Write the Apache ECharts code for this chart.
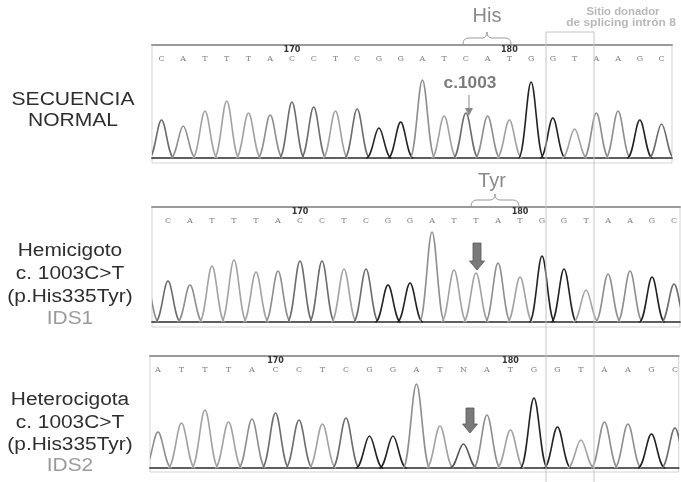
<!DOCTYPE html>
<html><head><meta charset="utf-8">
<script src="https://cdn.jsdelivr.net/npm/echarts@6/dist/echarts.min.js"></script>
<style>html,body{margin:0;padding:0;background:#fff}#c{width:681px;height:482px}</style>
</head><body><div id="c"></div>
<script>
// ---- Data ----
const normalSeq = ['C','A','T','T','T','A','C','C','T','C','G','G','A','T','C','A','T','G','G','T','A','A','G','C'];
const normalHeights = [38,32,47,57,45,43,56,51,47,49,30,36,78,42,45,42,38,76,40,29,45,47,38,34];
const normalNumbers = {6:'170', 16:'180'};

const hemiSeq = ['C','A','T','T','T','A','C','C','T','C','G','G','A','T','T','A','T','G','G','T','A','A','G','C'];
const hemiHeights = [41,37,56,62,50,51,61,61,53,53,37,39,90,52,49,59,45,66,53,32,48,51,45,38];
const hemiLeadPeak = 44;          // partial peak before the first base
const hemiNumbers = {6:'170', 16:'180'};

const heteroSeq = ['A','T','T','T','A','C','C','T','C','G','G','A','T','N','A','T','G','G','T','A','A','G','C'];
const heteroHeights = [36,45,58,46,49,55,48,44,50,32,32,84,42,24,53,38,70,41,28,46,44,34,40];
const heteroNumbers = {5:'170', 15:'180'};

const baseColors = {G:'#222222', C:'#6c6c6c', A:'#8e8e8e', T:'#a2a2a2', N:'#555555'};

// ---- Layout ----
const panels = [
  {seq:normalSeq, heights:normalHeights, lead:null, nums:normalNumbers,
   left:152, width:520, top:45, height:118, xMin:-0.437, xMax:23.48, yMin:-5, yMax:113},
  {seq:hemiSeq, heights:hemiHeights, lead:hemiLeadPeak, nums:hemiNumbers,
   left:152, width:528, top:207, height:120, xMin:-0.727, xMax:23.27, yMin:-5, yMax:115},
  {seq:heteroSeq, heights:heteroHeights, lead:null, nums:heteroNumbers,
   left:150, width:531, top:356, height:116, xMin:-0.34, xMax:22.16, yMin:-4, yMax:112}
];

const grids=[], xAxes=[], yAxes=[], series=[];
panels.forEach((p,k)=>{
  grids.push({left:p.left, top:p.top, width:p.width, height:p.height, show:true,
              borderColor:'#d4d4d4', borderWidth:1, backgroundColor:'#fff'});
  xAxes.push({type:'value', gridIndex:k, min:p.xMin, max:p.xMax, position:'bottom',
    axisLine:{show:true, onZero:true, lineStyle:{color:'#2a2a2a', width:1.7}},
    axisTick:{show:false}, axisLabel:{show:false}, splitLine:{show:false}});
  const idx = p.seq.map((_,i)=>i);
  xAxes.push({type:'value', gridIndex:k, min:p.xMin, max:p.xMax, position:'top',
    axisLine:{show:true, onZero:false, lineStyle:{color:'#9a9a9a', width:2}},
    axisTick:{show:false}, splitLine:{show:false},
    axisLabel:{show:true, inside:true, margin:1, customValues:idx,
      formatter:(v)=>{const i=Math.round(v); const n=p.nums[i]; return '{n|'+(n||' ')+'}\n{l|'+p.seq[i]+'}';},
      rich:{n:{fontSize:8, fontWeight:'bold', color:'#333', fontFamily:'DejaVu Sans', lineHeight:8, align:'center'},
            l:{fontSize:8, color:'#808080', fontFamily:'DejaVu Serif', lineHeight:9, align:'center'}}}});
  yAxes.push({type:'value', gridIndex:k, min:p.yMin, max:p.yMax, show:false, splitLine:{show:false}});

  const data = p.heights.map((h,i)=>({value:[i,h], itemStyle:{color:baseColors[p.seq[i]]}}));
  if (p.lead!==null) data.unshift({value:[-1,p.lead], itemStyle:{color:baseColors.A}});
  series.push({type:'custom', xAxisIndex:2*k, yAxisIndex:k, clip:true, silent:true,
    data:data,
    renderItem:(params, api)=>{
      const i=api.value(0), h=api.value(1);
      const a=api.coord([i-0.58,0]), c1=api.coord([i-0.3,0]), c2=api.coord([i-0.19,h]), t=api.coord([i,h]);
      const c3=api.coord([i+0.19,h]), c4=api.coord([i+0.3,0]), b=api.coord([i+0.58,0]);
      const d='M'+a[0]+','+a[1]+' C'+c1[0]+','+c1[1]+' '+c2[0]+','+c2[1]+' '+t[0]+','+t[1]+
              ' C'+c3[0]+','+c3[1]+' '+c4[0]+','+c4[1]+' '+b[0]+','+b[1];
      return {type:'path', shape:{pathData:d}, style:{stroke:api.visual('color'), fill:'none', lineWidth:1.6}};
    }});
});

function brace(x1,x2,yTop,yMid,yBot){
  const xm=(x1+x2)/2, st={stroke:'#999', fill:null, lineWidth:1};
  const q=(ax,ay,cx,cy,bx,by)=>({type:'bezierCurve', z:60, shape:{x1:ax,y1:ay,cpx1:cx,cpy1:cy,x2:bx,y2:by}, style:st});
  const l=(ax,ay,bx,by)=>({type:'line', z:60, shape:{x1:ax,y1:ay,x2:bx,y2:by}, style:st});
  return [q(x1,yBot,x1,yMid,x1+6,yMid), l(x1+6,yMid,xm-5,yMid), q(xm-5,yMid,xm,yMid,xm,yTop),
          q(xm,yTop,xm,yMid,xm+5,yMid), l(xm+5,yMid,x2-6,yMid), q(x2-6,yMid,x2,yMid,x2,yBot)];
}
function blockArrow(cx,y1,y2){
  return {type:'polygon', z:60, shape:{points:[[cx-4,y1],[cx+4,y1],[cx+4,y2-9],[cx+7.5,y2-9],[cx,y2],[cx-7.5,y2-9],[cx-4,y2-9]]},
          style:{fill:'#7a7a7a', stroke:'#555', lineWidth:0.8}};
}
const F='"Liberation Sans", Arial, sans-serif';
function label(text,x,y,size,color,weight,sx){
  return {type:'text', x:x, y:y, z:100, scaleX:sx||1, style:{text:text, fill:color, textAlign:'center', textVerticalAlign:'middle',
          font:(weight||'normal')+' '+size+'px '+F}};
}
const graphic = [
  {type:'polyline', z:50, shape:{points:[[546,482],[546,32],[594,32],[594,482]]}, style:{stroke:'#c4c4c4', fill:null, lineWidth:1}},
  label('Sitio donador',623,12,10.5,'#b8b8b8','bold',1.08),
  label('de splicing intrón 8',621,23,10.5,'#b8b8b8','bold',1.14),
  label('His',487,16,20,'#8a8a8a'),
  ...brace(463,511,32,38,44),
  label('c.1003',470,84,16,'#7c7c7c','bold',1.08),
  {type:'line', z:60, shape:{x1:469,y1:95,x2:469,y2:109}, style:{stroke:'#8a8a8a', lineWidth:1}},
  {type:'polygon', z:60, shape:{points:[[465,108],[473,108],[469,116]]}, style:{fill:'#8a8a8a'}},
  label('Tyr',492,181,20,'#8a8a8a'),
  ...brace(471,519,194,200,207),
  blockArrow(477,243,270),
  blockArrow(470,408,433),
  label('SECUENCIA',73,100,18,'#2e2e2e','normal',1.17),
  label('NORMAL',73,121,18,'#2e2e2e','normal',1.17),
  label('Hemicigoto',70,251,18,'#2e2e2e','normal',1.16),
  label('c. 1003C>T',70,274,18,'#2e2e2e','normal',1.16),
  label('(p.His335Tyr)',70,297,18,'#2e2e2e','normal',1.16),
  label('IDS1',70,319,18,'#9a9a9a','normal',1.16),
  label('Heterocigota',70,400,18,'#2e2e2e','normal',1.16),
  label('c. 1003C>T',70,423,18,'#2e2e2e','normal',1.16),
  label('(p.His335Tyr)',70,445,18,'#2e2e2e','normal',1.16),
  label('IDS2',70,466,18,'#9a9a9a','normal',1.16)
];

const chart = echarts.init(document.getElementById('c'), null, {renderer:'canvas'});
chart.setOption({animation:false, backgroundColor:'#fff', grid:grids, xAxis:xAxes, yAxis:yAxes, series:series, graphic:graphic});
</script></body></html>
